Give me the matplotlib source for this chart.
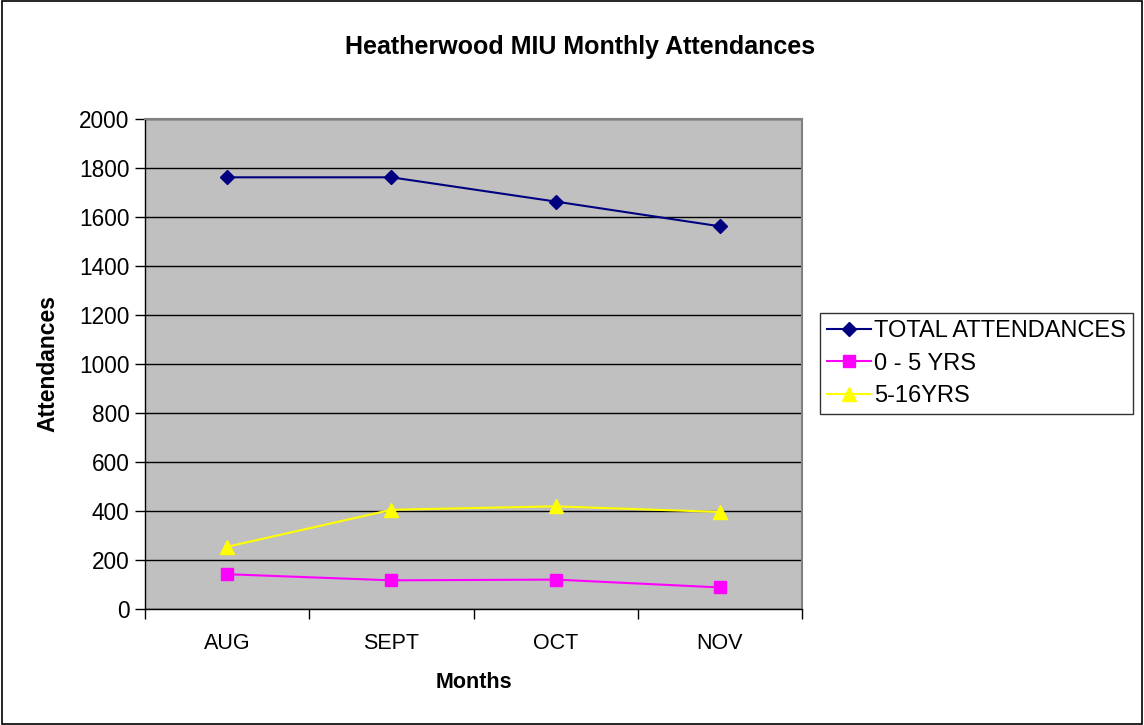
import matplotlib
matplotlib.use("Agg")
import matplotlib.pyplot as plt
from matplotlib.patches import Rectangle

plt.rcParams['font.family'] = ['Liberation Sans', 'DejaVu Sans']

months = ["AUG", "SEPT", "OCT", "NOV"]
total = [1762, 1762, 1663, 1562]
age_0_5 = [142, 117, 120, 88]
age_5_16 = [254, 405, 419, 396]
series_labels = ["TOTAL ATTENDANCES", "0 - 5 YRS", "5-16YRS"]
yticks = [0, 200, 400, 600, 800, 1000, 1200, 1400, 1600, 1800, 2000]

fig = plt.figure(figsize=(11.44, 7.25), dpi=100)
fig.patches.append(Rectangle((0.0015, 0.002), 0.997, 0.996, transform=fig.transFigure,
                             fill=False, edgecolor='black', linewidth=1.2))
ax = fig.add_axes([145/1144, 1-609/725, (802-145)/1144, (609-119)/725])
ax.set_facecolor('#C0C0C0')

x = list(range(1, len(months)+1))
ax.plot(x, total, color='#000080', marker='D', markersize=7.5, linewidth=1.5, label=series_labels[0])
ax.plot(x, age_0_5, color='#FF00FF', marker='s', markersize=8.5, linewidth=1.5, label=series_labels[1])
ax.plot(x, age_5_16, color='#FFFF00', marker='^', markersize=9.5, linewidth=1.5, label=series_labels[2])

ax.set_xlim(0.5, len(months)+0.5)
ax.set_ylim(0, 2000)
ax.set_yticks(yticks)
ax.set_yticklabels([str(v) for v in yticks])
ax.set_xticks(x)
ax.set_xticklabels(months)
ax.set_xticks([i+0.5 for i in range(len(months)+1)], minor=True)
ax.tick_params(axis='x', which='major', length=0, labelsize=15.5, pad=17)
ax.tick_params(axis='x', which='minor', length=7, width=1, direction='out')
ax.tick_params(axis='y', length=7, width=1, direction='out', labelsize=16.3, pad=4)
ax.grid(axis='y', color='black', linewidth=1)
ax.set_axisbelow(True)
for s in ['top', 'right']:
    ax.spines[s].set_color('#808080')
    ax.spines[s].set_linewidth(1.5)
for s in ['left', 'bottom']:
    ax.spines[s].set_color('black')
    ax.spines[s].set_linewidth(1)

ax.set_xlabel("Months", fontsize=15.5, fontweight='bold', va='center')
ax.xaxis.set_label_coords(0.5, (609-682)/490)
ax.set_ylabel("Attendances", fontsize=16.5, fontweight='bold', va='center')
ax.yaxis.set_label_coords((48-145)/657, 0.5)
fig.text(580/1144, 1-47/725, "Heatherwood MIU Monthly Attendances", ha='center', va='center',
         fontsize=18, fontweight='bold')

leg = fig.legend(loc='upper left', bbox_to_anchor=(820/1144, 1-313/725), fontsize=17,
                 frameon=True, fancybox=False, edgecolor='black', handlelength=1.85,
                 handletextpad=0.15, borderpad=0.3, labelspacing=0.45, borderaxespad=0)
leg.get_frame().set_linewidth(1)

fig.savefig("out.png", dpi=100)
